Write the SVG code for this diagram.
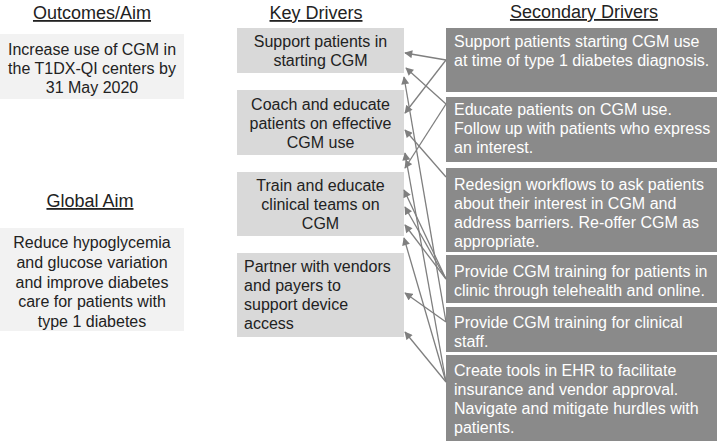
<svg xmlns="http://www.w3.org/2000/svg" width="717" height="441" viewBox="0 0 717 441">
<style>
text{font-family:"Liberation Sans",Arial,sans-serif;font-size:16px;fill:#222}
.t{font-size:18px;text-decoration:underline;text-anchor:middle}
.c{text-anchor:middle}
.w{fill:#fff}
.o{fill:#f2f2f2}
.k{fill:#d9d9d9}
.s{fill:#8a8a8a}
.con line{stroke:#7f7f7f;stroke-width:1.3;marker-end:url(#ah)}
</style>
<defs>
<marker id="ah" viewBox="0 0 10 10" refX="9" refY="5" markerWidth="9" markerHeight="8" markerUnits="userSpaceOnUse" orient="auto">
<path d="M0,0 L10,5 L0,10 z" fill="#7f7f7f"/>
</marker>
</defs>
<rect width="717" height="441" fill="#fff"/>
<text class="t" x="92" y="19">Outcomes/Aim</text>
<text class="t" x="316" y="19">Key Drivers</text>
<text class="t" x="584" y="18">Secondary Drivers</text>
<text class="t" x="90" y="207">Global Aim</text>
<g id="outcome">
<rect class="o" x="0" y="34" width="184" height="65"/>
<text class="c" x="92" y="55">Increase use of CGM in</text>
<text class="c" x="92" y="74">the T1DX-QI centers by</text>
<text class="c" x="92" y="93">31 May 2020</text>
</g>
<g id="global-aim">
<rect class="o" x="0" y="228" width="184" height="103"/>
<text class="c" x="92" y="248">Reduce hypoglycemia</text>
<text class="c" x="92" y="268">and glucose variation</text>
<text class="c" x="92" y="288">and improve diabetes</text>
<text class="c" x="92" y="307">care for patients with</text>
<text class="c" x="92" y="327">type 1 diabetes</text>
</g>
<g id="key1">
<rect class="k" x="237" y="28" width="167" height="45"/>
<text class="c" x="320.5" y="47">Support patients in</text>
<text class="c" x="320.5" y="66">starting CGM</text>
</g>
<g id="key2">
<rect class="k" x="237" y="90" width="167" height="65"/>
<text class="c" x="320.5" y="110">Coach and educate</text>
<text class="c" x="320.5" y="129">patients on effective</text>
<text class="c" x="320.5" y="148">CGM use</text>
</g>
<g id="key3">
<rect class="k" x="237" y="172" width="167" height="64"/>
<text class="c" x="320.5" y="191">Train and educate</text>
<text class="c" x="320.5" y="210">clinical teams on</text>
<text class="c" x="320.5" y="229">CGM</text>
</g>
<g id="key4">
<rect class="k" x="237" y="253" width="167" height="84"/>
<text x="244" y="272">Partner with vendors</text>
<text x="244" y="291">and payers to</text>
<text x="244" y="310">support device</text>
<text x="244" y="329">access</text>
</g>
<g id="sec1">
<rect class="s" x="446" y="28" width="271" height="64"/>
<text class="w" x="454" y="47">Support patients starting CGM use</text>
<text class="w" x="454" y="66">at time of type 1 diabetes diagnosis.</text>
</g>
<g id="sec2">
<rect class="s" x="446" y="97" width="271" height="65"/>
<text class="w" x="454" y="115">Educate patients on CGM use.</text>
<text class="w" x="454" y="134">Follow up with patients who express</text>
<text class="w" x="454" y="153">an interest.</text>
</g>
<g id="sec3">
<rect class="s" x="446" y="168" width="271" height="84"/>
<text class="w" x="454" y="190">Redesign workflows to ask patients</text>
<text class="w" x="454" y="209">about their interest in CGM and</text>
<text class="w" x="454" y="228">address barriers. Re-offer CGM as</text>
<text class="w" x="454" y="247">appropriate.</text>
</g>
<g id="sec4">
<rect class="s" x="446" y="255" width="271" height="48"/>
<text class="w" x="454" y="277">Provide CGM training for patients in</text>
<text class="w" x="454" y="296">clinic through telehealth and online.</text>
</g>
<g id="sec5">
<rect class="s" x="446" y="307" width="271" height="45"/>
<text class="w" x="454" y="328">Provide CGM training for clinical</text>
<text class="w" x="454" y="347">staff.</text>
</g>
<g id="sec6">
<rect class="s" x="446" y="355" width="271" height="90"/>
<text class="w" x="454" y="376">Create tools in EHR to facilitate</text>
<text class="w" x="454" y="395">insurance and vendor approval.</text>
<text class="w" x="454" y="414">Navigate and mitigate hurdles with</text>
<text class="w" x="454" y="433">patients.</text>
</g>
<g id="connectors" class="con">
<line x1="446" y1="60" x2="405" y2="53"/>
<line x1="446" y1="60" x2="405" y2="113"/>
<line x1="446" y1="104" x2="406" y2="68"/>
<line x1="446" y1="322" x2="404" y2="77"/>
<line x1="446" y1="177" x2="405" y2="130"/>
<line x1="446" y1="382" x2="405" y2="153"/>
<line x1="446" y1="104" x2="405" y2="168"/>
<line x1="446" y1="279" x2="404" y2="190"/>
<line x1="446" y1="279" x2="405" y2="207"/>
<line x1="446" y1="279" x2="405" y2="225"/>
<line x1="446" y1="382" x2="404" y2="238"/>
<line x1="446" y1="322" x2="405" y2="293"/>
<line x1="446" y1="382" x2="405" y2="332"/>
</g>
</svg>
